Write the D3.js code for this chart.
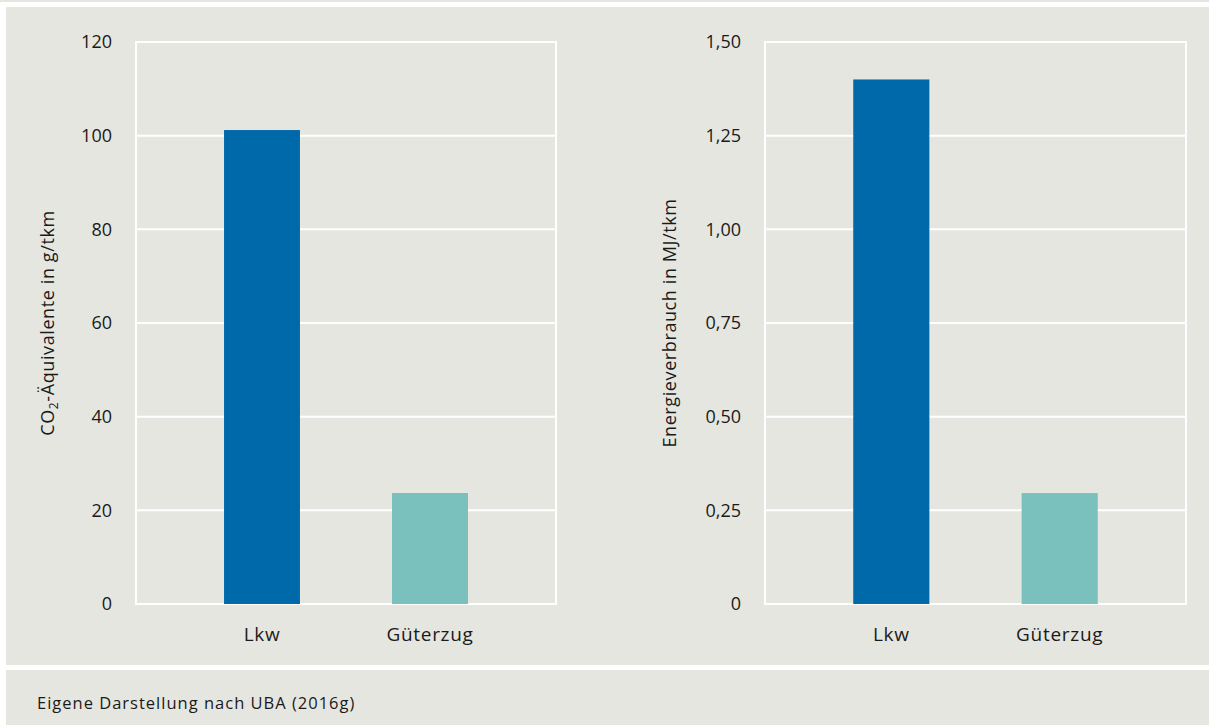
<!DOCTYPE html>
<html><head><meta charset="utf-8">
<script src="https://cdn.jsdelivr.net/npm/d3@7"></script>
<style>html,body{margin:0;padding:0;background:#fff;}svg{display:block;font-family:"Open Sans",Roboto,sans-serif;}</style>
</head><body>
<svg id="c" width="1209" height="725"></svg>
<script>
const categories = ["Lkw", "Güterzug"];
const co2Values = [101.2, 23.7];
const energyValues = [1.40, 0.296];
const co2Ticks = [0, 20, 40, 60, 80, 100, 120];
const energyTicks = [0, 0.25, 0.5, 0.75, 1.0, 1.25, 1.5];
const colors = ["#0069aa", "#7ac0bd"];

const svg = d3.select("#c");
svg.append("rect").attr("x",0).attr("y",0).attr("width",1209).attr("height",2).attr("fill","#e6e6e1");
svg.append("rect").attr("x",6).attr("y",7).attr("width",1203).attr("height",658).attr("fill","#e6e6e1");
svg.append("rect").attr("x",6).attr("y",670).attr("width",1203).attr("height",55).attr("fill","#e6e6e1");
svg.append("text").attr("x",37).attr("y",709).attr("font-size",16.5).attr("letter-spacing",1)
  .attr("fill","#1a1a1a").text("Eigene Darstellung nach UBA (2016g)");

function panel(x0, x1, values, ticks, maxV, fmt, titleX, titleFn) {
  const y = d3.scaleLinear().domain([0, maxV]).range([604, 42]);
  const x = d3.scaleBand().domain(categories).range([x0, x1]).paddingInner(0.548).paddingOuter(0.524);
  const g = svg.append("g");
  g.append("rect").attr("x",x0).attr("y",42).attr("width",x1-x0).attr("height",562)
    .attr("fill","none").attr("stroke","#fff").attr("stroke-width",2);
  g.selectAll(".grid").data(ticks).join("line")
    .attr("x1",x0).attr("x2",x1).attr("y1",d=>y(d)).attr("y2",d=>y(d))
    .attr("stroke","#fff").attr("stroke-width",2);
  g.selectAll(".bar").data(values).join("rect")
    .attr("x",(d,i)=>x(categories[i])).attr("width",x.bandwidth())
    .attr("y",d=>y(d)).attr("height",d=>y(0)-y(d)).attr("fill",(d,i)=>colors[i]);
  g.selectAll(".tl").data(ticks).join("text")
    .attr("x",x0-24).attr("y",d=>y(d)).attr("dy","0.35em").attr("text-anchor","end")
    .attr("font-size",18).attr("fill","#1a1a1a").text(fmt);
  g.selectAll(".cl").data(categories).join("text")
    .attr("x",d=>x(d)+x.bandwidth()/2).attr("y",641).attr("text-anchor","middle")
    .attr("font-size",19).attr("letter-spacing",0.7).attr("fill","#1a1a1a").text(d=>d);
  const t = g.append("text").attr("transform",`translate(${titleX},323) rotate(-90)`)
    .attr("text-anchor","middle").attr("font-size",18).attr("letter-spacing",0.6).attr("fill","#1a1a1a");
  titleFn(t);
}
panel(136, 556, co2Values, co2Ticks, 120, d=>String(d), 54, t=>{
  t.append("tspan").text("CO");
  t.append("tspan").attr("font-size",12).attr("dy",4).text("2");
  t.append("tspan").attr("dy",-4).text("-Äquivalente in g/tkm");
});
const fmtE = d => d===0 ? "0" : d3.format(".2f")(d).replace(".", ",");
panel(765, 1186, energyValues, energyTicks, 1.5, fmtE, 676, t=>t.text("Energieverbrauch in MJ/tkm"));
</script>
</body></html>
